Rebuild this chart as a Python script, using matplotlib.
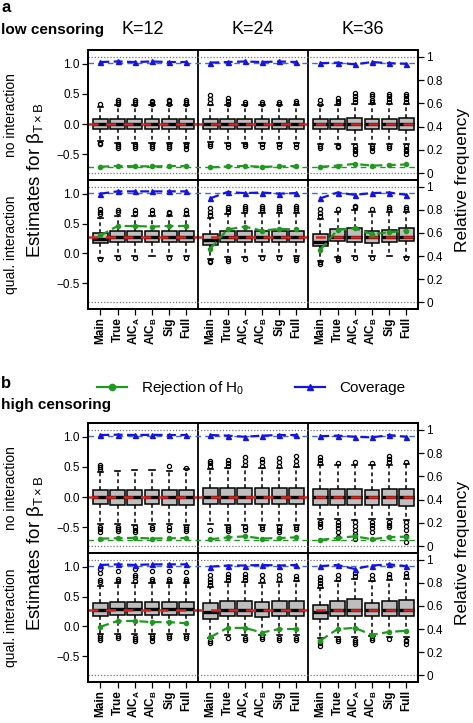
import numpy as np
import matplotlib
matplotlib.use('Agg')
import matplotlib.pyplot as plt
from matplotlib.lines import Line2D

plt.rcParams['font.family'] = 'Liberation Sans'
plt.rcParams['mathtext.fontset'] = 'custom'
plt.rcParams['mathtext.rm'] = 'Liberation Sans'
plt.rcParams['mathtext.it'] = 'Liberation Sans:italic'
plt.rcParams['mathtext.bf'] = 'Liberation Sans:bold'

# ================== Data ==================
K_VALUES = [12, 24, 36]
METHODS = ['Main', 'True', r'AIC$_\mathbf{A}$', r'AIC$_\mathbf{B}$', 'Sig', 'Full']
TRUE_BETA = [0.0, 0.28]  # no interaction, qual. interaction

# --- a: low censoring, no interaction ---
a_no_q1 = [[-0.085, -0.088, -0.087, -0.086, -0.088, -0.087],
           [-0.082, -0.084, -0.085, -0.083, -0.084, -0.085],
           [-0.085, -0.087, -0.092, -0.088, -0.090, -0.092]]
a_no_med = [[0.0, 0.0, 0.0, 0.0, 0.0, 0.0],
            [0.0, 0.0, 0.0, 0.0, 0.0, 0.0],
            [0.0, 0.0, 0.0, 0.0, 0.0, 0.0]]
a_no_q3 = [[0.085, 0.088, 0.088, 0.087, 0.088, 0.088],
           [0.082, 0.085, 0.086, 0.084, 0.085, 0.086],
           [0.086, 0.089, 0.094, 0.090, 0.091, 0.093]]
a_no_lo = [[-0.29, -0.31, -0.31, -0.31, -0.31, -0.31],
           [-0.30, -0.31, -0.31, -0.31, -0.31, -0.31],
           [-0.33, -0.33, -0.34, -0.33, -0.34, -0.34]]
a_no_hi = [[0.29, 0.31, 0.31, 0.31, 0.31, 0.31],
           [0.31, 0.31, 0.31, 0.31, 0.31, 0.32],
           [0.31, 0.32, 0.34, 0.33, 0.33, 0.33]]
a_no_out_hi = [[[0.33], [0.34, 0.37, 0.40], [0.34, 0.37, 0.40], [0.34, 0.37, 0.39], [0.34, 0.38, 0.40], [0.34, 0.37, 0.40]],
               [[0.35, 0.42, 0.49], [0.34, 0.38, 0.43], [0.34, 0.37], [0.34, 0.37], [0.34, 0.37], [0.35, 0.38]],
               [[0.34, 0.40], [0.35, 0.39, 0.44], [0.37, 0.42, 0.47, 0.52], [0.36, 0.40, 0.46, 0.50], [0.36, 0.41, 0.46, 0.50], [0.36, 0.41, 0.46, 0.50]]]
a_no_out_lo = [[[-0.32, -0.34], [-0.34, -0.37, -0.40], [-0.34, -0.37, -0.40], [-0.34, -0.37, -0.40], [-0.34, -0.37, -0.40], [-0.34, -0.37, -0.41]],
               [[-0.33, -0.36], [-0.34, -0.38], [-0.34, -0.36], [-0.34, -0.38], [-0.34, -0.38], [-0.34, -0.38]],
               [[-0.36, -0.39], [-0.36, -0.38], [-0.37, -0.41, -0.45, -0.49], [-0.36, -0.40, -0.44], [-0.36, -0.40], [-0.37, -0.41, -0.45, -0.49]]]
a_no_rej = [[0.055, 0.062, 0.060, 0.058, 0.062, 0.060],
            [0.050, 0.058, 0.062, 0.055, 0.058, 0.062],
            [0.055, 0.065, 0.080, 0.065, 0.070, 0.075]]
a_no_cov = [[0.955, 0.960, 0.955, 0.960, 0.955, 0.955],
            [0.950, 0.955, 0.960, 0.955, 0.960, 0.955],
            [0.945, 0.950, 0.935, 0.955, 0.945, 0.940]]

# --- a: low censoring, qual. interaction ---
a_qu_q1 = [[0.17, 0.195, 0.195, 0.19, 0.195, 0.195],
           [0.145, 0.195, 0.195, 0.19, 0.195, 0.195],
           [0.12, 0.205, 0.19, 0.18, 0.19, 0.21]]
a_qu_med = [[0.25, 0.28, 0.28, 0.28, 0.28, 0.28],
            [0.22, 0.28, 0.28, 0.275, 0.28, 0.28],
            [0.195, 0.28, 0.28, 0.27, 0.28, 0.28]]
a_qu_q3 = [[0.35, 0.37, 0.37, 0.37, 0.37, 0.37],
           [0.32, 0.38, 0.38, 0.375, 0.38, 0.38],
           [0.32, 0.405, 0.42, 0.37, 0.40, 0.42]]
a_qu_lo = [[-0.07, -0.05, -0.05, -0.04, -0.05, -0.05],
           [-0.10, -0.06, -0.06, -0.05, -0.05, -0.05],
           [-0.12, -0.06, -0.05, -0.05, -0.04, -0.06]]
a_qu_hi = [[0.60, 0.63, 0.63, 0.63, 0.62, 0.63],
           [0.60, 0.66, 0.68, 0.68, 0.68, 0.68],
           [0.58, 0.70, 0.72, 0.70, 0.70, 0.70]]
a_qu_out_hi = [[[0.66, 0.70, 0.74], [0.70, 0.73], [0.68, 0.72], [0.68, 0.72], [0.68, 0.70], [0.68, 0.72]],
               [[0.64, 0.70, 0.76], [0.70, 0.74, 0.78], [0.72, 0.76, 0.80], [0.72, 0.76, 0.80], [0.72, 0.76, 0.80], [0.72, 0.76, 0.80]],
               [[0.62, 0.68, 0.74], [0.75], [0.77, 0.80], [0.74], [0.74, 0.78], [0.74, 0.78]]]
a_qu_out_lo = [[[-0.09], [-0.07], [-0.07], [], [-0.07], [-0.07]],
               [[-0.13, -0.15], [-0.09, -0.12], [-0.09], [-0.08], [-0.08], [-0.08, -0.11]],
               [[-0.15, -0.17], [-0.08, -0.11], [-0.07], [-0.07], [], [-0.08]]]
a_qu_rej = [[0.578, 0.66, 0.66, 0.655, 0.66, 0.66],
            [0.465, 0.63, 0.655, 0.62, 0.635, 0.63],
            [0.455, 0.627, 0.64, 0.59, 0.605, 0.62]]
a_qu_cov = [[0.94, 0.96, 0.96, 0.96, 0.96, 0.96],
            [0.90, 0.955, 0.945, 0.95, 0.94, 0.945],
            [0.90, 0.95, 0.93, 0.945, 0.95, 0.93]]

# --- b: high censoring, no interaction ---
b_no_q1 = [[-0.12, -0.125, -0.125, -0.12, -0.125, -0.125],
           [-0.11, -0.115, -0.12, -0.115, -0.12, -0.12],
           [-0.13, -0.14, -0.14, -0.13, -0.14, -0.145]]
b_no_med = [[0.0, 0.0, 0.0, 0.0, 0.0, 0.0],
            [0.005, 0.0, 0.0, 0.0, 0.0, 0.0],
            [0.0, 0.0, 0.0, 0.0, -0.005, 0.0]]
b_no_q3 = [[0.125, 0.125, 0.125, 0.125, 0.125, 0.125],
           [0.145, 0.15, 0.15, 0.145, 0.15, 0.15],
           [0.13, 0.13, 0.13, 0.125, 0.13, 0.13]]
b_no_lo = [[-0.44, -0.45, -0.46, -0.45, -0.45, -0.46],
           [-0.45, -0.46, -0.46, -0.46, -0.46, -0.46],
           [-0.37, -0.37, -0.38, -0.37, -0.37, -0.38]]
b_no_hi = [[0.42, 0.44, 0.45, 0.45, 0.44, 0.46],
           [0.47, 0.48, 0.50, 0.48, 0.48, 0.50],
           [0.53, 0.53, 0.54, 0.53, 0.54, 0.55]]
b_no_out_hi = [[[0.47, 0.50, 0.53], [], [], [], [0.51], [0.48]],
               [[0.52, 0.57, 0.60], [0.52, 0.57, 0.62], [0.54, 0.60, 0.66], [0.52, 0.58, 0.63], [0.52, 0.58, 0.65], [0.54, 0.60, 0.68]],
               [[0.57, 0.61, 0.66], [0.57], [0.58], [0.57], [0.58, 0.63, 0.68], [0.59]]]
b_no_out_lo = [[[-0.49, -0.53, -0.58], [-0.49, -0.53, -0.56], [-0.50, -0.54, -0.58], [-0.49, -0.53], [-0.50, -0.55], [-0.50, -0.53, -0.56]],
               [[-0.54], [-0.50, -0.53, -0.57], [-0.50, -0.54], [-0.50, -0.53], [-0.50, -0.55, -0.58], [-0.50, -0.53]],
               [[-0.41, -0.45, -0.50], [-0.41, -0.46, -0.52, -0.58, -0.66], [-0.42, -0.48, -0.55, -0.62, -0.70],
                [-0.41, -0.46, -0.52, -0.58], [-0.41, -0.46, -0.50], [-0.42, -0.48, -0.55, -0.65, -0.75]]]
b_no_rej = [[0.065, 0.068, 0.072, 0.066, 0.068, 0.070],
            [0.060, 0.075, 0.085, 0.066, 0.070, 0.076],
            [0.055, 0.070, 0.085, 0.060, 0.078, 0.082]]
b_no_cov = [[0.955, 0.958, 0.955, 0.957, 0.955, 0.955],
            [0.955, 0.950, 0.940, 0.950, 0.955, 0.955],
            [0.945, 0.950, 0.940, 0.935, 0.955, 0.940]]

# --- b: high censoring, qual. interaction ---
b_qu_q1 = [[0.17, 0.195, 0.195, 0.195, 0.195, 0.195],
           [0.12, 0.17, 0.17, 0.165, 0.17, 0.17],
           [0.12, 0.17, 0.17, 0.17, 0.17, 0.18]]
b_qu_med = [[0.28, 0.29, 0.29, 0.29, 0.29, 0.29],
            [0.24, 0.28, 0.28, 0.275, 0.28, 0.28],
            [0.24, 0.28, 0.28, 0.27, 0.28, 0.28]]
b_qu_q3 = [[0.40, 0.417, 0.417, 0.415, 0.417, 0.417],
           [0.39, 0.42, 0.42, 0.41, 0.42, 0.43],
           [0.36, 0.43, 0.46, 0.40, 0.42, 0.44]]
b_qu_lo = [[-0.12, -0.12, -0.13, -0.12, -0.12, -0.12],
           [-0.20, -0.15, -0.15, -0.14, -0.15, -0.15],
           [-0.20, -0.17, -0.18, -0.16, -0.17, -0.18]]
b_qu_hi = [[0.68, 0.72, 0.72, 0.72, 0.72, 0.72],
           [0.66, 0.74, 0.74, 0.72, 0.74, 0.76],
           [0.64, 0.76, 0.80, 0.76, 0.78, 0.80]]
b_qu_out_hi = [[[0.74, 0.78, 0.90, 0.96], [0.76, 0.80, 0.93], [0.76, 0.82, 0.86, 0.96], [0.76, 0.80, 0.93], [0.76, 0.80, 0.93], [0.76, 0.80, 0.92]],
               [[0.70, 0.75, 0.80, 0.86], [0.78, 0.82, 0.88], [0.78, 0.83, 0.88], [0.78, 0.86], [0.80, 0.86], [0.80, 0.84]],
               [[0.68, 0.73, 0.77, 0.82], [0.80, 0.86], [0.84, 0.90], [0.80, 0.86], [0.82, 0.88], [0.84, 0.90]]]
b_qu_out_lo = [[[-0.16, -0.20, -0.23], [-0.16, -0.19], [-0.17, -0.21, -0.24], [-0.16, -0.20, -0.24], [-0.16, -0.19], [-0.16, -0.19]],
               [[-0.24, -0.28], [-0.19], [-0.19, -0.23], [-0.18, -0.21], [-0.19, -0.22], [-0.19, -0.23]],
               [[-0.24, -0.28, -0.33], [-0.21, -0.24], [-0.22, -0.26, -0.30], [-0.20, -0.23], [-0.21], [-0.22, -0.25, -0.30]]]
b_qu_rej = [[0.42, 0.47, 0.47, 0.46, 0.46, 0.45],
            [0.33, 0.41, 0.41, 0.37, 0.40, 0.40],
            [0.30, 0.40, 0.41, 0.35, 0.375, 0.385]]
b_qu_cov = [[0.955, 0.96, 0.955, 0.96, 0.96, 0.96],
            [0.94, 0.95, 0.95, 0.955, 0.95, 0.955],
            [0.945, 0.955, 0.92, 0.95, 0.96, 0.945]]

NOMINAL_REJ = 0.05
NOMINAL_COV = 0.95

# ================== Style / layout ==================
W_PX, H_PX = 473, 723
AX_LEFT, AX_RIGHT = 88, 418
ROWS_PX = [(50, 180), (180, 309), (423, 553), (553, 682)]
YLIM = (-0.93, 1.23)
FREQ0_EST, FREQ1_EST = -0.817, 1.117   # where freq 0 / 1 sit on the estimate scale
GROUP_W = 6.4
OFFSET = 0.72

GREEN = '#1f9a1f'
BLUE = '#1414e6'
RED = '#e0201c'
BOXGRAY = '#bebebe'

fig = plt.figure(figsize=(W_PX / 100, H_PX / 100), dpi=100)


def px_axes(top, bottom):
    return fig.add_axes([AX_LEFT / W_PX, 1 - bottom / H_PX,
                         (AX_RIGHT - AX_LEFT) / W_PX, (bottom - top) / H_PX])


def draw_row(rowpx, q1, med, q3, lo, hi, out_hi, out_lo, rej, cov, true_beta, nominal_rej, xlabels):
    ax = px_axes(*rowpx)
    stats, pos = [], []
    for g in range(len(K_VALUES)):
        for i in range(len(METHODS)):
            stats.append(dict(med=med[g][i], q1=q1[g][i], q3=q3[g][i],
                              whislo=lo[g][i], whishi=hi[g][i],
                              fliers=out_hi[g][i] + out_lo[g][i]))
            pos.append(g * GROUP_W + OFFSET + i)
    ax.bxp(stats, positions=pos, widths=0.86, capwidths=0.3, patch_artist=True,
           boxprops=dict(facecolor=BOXGRAY, edgecolor='black', lw=1.1),
           medianprops=dict(color='black', lw=2.4),
           whiskerprops=dict(color='black', lw=1.1, ls=(0, (2.5, 2))),
           capprops=dict(color='black', lw=1.2),
           flierprops=dict(marker='o', mfc='none', mec='black', ms=3.0, mew=0.9))
    ax.axhline(true_beta, color=RED, ls=(0, (4, 3)), lw=1.8, zorder=5)
    for g in range(1, len(K_VALUES)):
        ax.axvline(g * GROUP_W, color='black', lw=1.3, zorder=6)
    ax.set_xlim(0, len(K_VALUES) * GROUP_W)
    ax.set_ylim(*YLIM)
    ax.set_yticks([-0.5, 0.0, 0.5, 1.0])
    ax.set_yticklabels(['\u22120.5', '0.0', '0.5', '1.0'])
    if xlabels:
        ax.set_xticks(pos)
        ax.set_xticklabels(METHODS * len(K_VALUES), rotation=90, fontsize=9.5, fontweight='bold')
    else:
        ax.set_xticks([])
    ax.tick_params(direction='out', length=4, width=0.9, labelsize=8.5, pad=2)
    ax.tick_params(axis='x', pad=2)

    ax2 = ax.twinx()
    scale = FREQ1_EST - FREQ0_EST
    ax2.set_ylim((YLIM[0] - FREQ0_EST) / scale, (YLIM[1] - FREQ0_EST) / scale)
    ax2.axhline(0, color='#777777', ls=(0, (1, 1.5)), lw=0.9)
    ax2.axhline(1, color='#777777', ls=(0, (1, 1.5)), lw=0.9)
    ax2.axhline(NOMINAL_COV, color='#4466ee', ls=(0, (4, 3)), lw=1.0)
    if nominal_rej:
        ax2.axhline(NOMINAL_REJ, color=GREEN, ls=(0, (4, 3)), lw=1.0)
    for g in range(len(K_VALUES)):
        p = pos[g * len(METHODS):(g + 1) * len(METHODS)]
        ax2.plot(p, rej[g], color=GREEN, ls=(0, (4, 2)), lw=1.6, marker='o', ms=3.0, mec=GREEN)
        ax2.plot(p, cov[g], color=BLUE, ls=(0, (4, 2)), lw=1.6, marker='^', ms=3.6, mec=BLUE)
    ax2.set_yticks([0, 0.2, 0.4, 0.6, 0.8, 1.0])
    ax2.set_yticklabels(['0', '0.2', '0.4', '0.6', '0.8', '1'])
    ax2.tick_params(direction='out', length=4, width=0.9, labelsize=8.5, pad=2)
    for a in (ax, ax2):
        for s in a.spines.values():
            s.set_linewidth(1.3)
    return ax


draw_row(ROWS_PX[0], a_no_q1, a_no_med, a_no_q3, a_no_lo, a_no_hi, a_no_out_hi, a_no_out_lo,
         a_no_rej, a_no_cov, TRUE_BETA[0], True, False)
draw_row(ROWS_PX[1], a_qu_q1, a_qu_med, a_qu_q3, a_qu_lo, a_qu_hi, a_qu_out_hi, a_qu_out_lo,
         a_qu_rej, a_qu_cov, TRUE_BETA[1], False, True)
draw_row(ROWS_PX[2], b_no_q1, b_no_med, b_no_q3, b_no_lo, b_no_hi, b_no_out_hi, b_no_out_lo,
         b_no_rej, b_no_cov, TRUE_BETA[0], True, False)
draw_row(ROWS_PX[3], b_qu_q1, b_qu_med, b_qu_q3, b_qu_lo, b_qu_hi, b_qu_out_hi, b_qu_out_lo,
         b_qu_rej, b_qu_cov, TRUE_BETA[1], False, True)


def ftext(x, y, s, **kw):
    fig.text(x / W_PX, 1 - y / H_PX, s, **kw)


# panel letters / titles
ftext(1, 7, 'a', fontsize=12, fontweight='bold', va='center')
ftext(1, 30, 'low censoring', fontsize=11, fontweight='bold', va='center')
for g, k in enumerate(K_VALUES):
    ftext(AX_LEFT + (g + 0.5) * (AX_RIGHT - AX_LEFT) / len(K_VALUES), 30, 'K=%d' % k,
          fontsize=13, ha='center', va='center')
ftext(1, 383, 'b', fontsize=12, fontweight='bold', va='center')
ftext(1, 405, 'high censoring', fontsize=11, fontweight='bold', va='center')

# side labels
for (t1, b1), (t2, b2) in [(ROWS_PX[0], ROWS_PX[1]), (ROWS_PX[2], ROWS_PX[3])]:
    ftext(11, (t1 + b1) / 2, 'no interaction', rotation=90, fontsize=10, ha='center', va='center')
    ftext(11, (t2 + b2) / 2, 'qual. interaction', rotation=90, fontsize=10, ha='center', va='center')
    ftext(36, b1, r'Estimates for $\mathrm{\beta}_{\mathrm{T\times B}}$', rotation=90, fontsize=13.5,
          ha='center', va='center')
    ftext(462, b1, 'Relative frequency', rotation=90, fontsize=12.5, ha='center', va='center')

# legend
handles = [Line2D([], [], color=GREEN, lw=1.6, marker='o', ms=4.5),
           Line2D([], [], color=BLUE, lw=1.6, marker='^', ms=5)]
fig.legend(handles, [r'Rejection of H$_0$', 'Coverage'], loc='center',
           bbox_to_anchor=(251 / W_PX, 1 - 388 / H_PX), ncol=2, frameon=False,
           fontsize=11, handlelength=2.0, handletextpad=0.9, columnspacing=3.3)

plt.savefig('out.png', dpi=100)
